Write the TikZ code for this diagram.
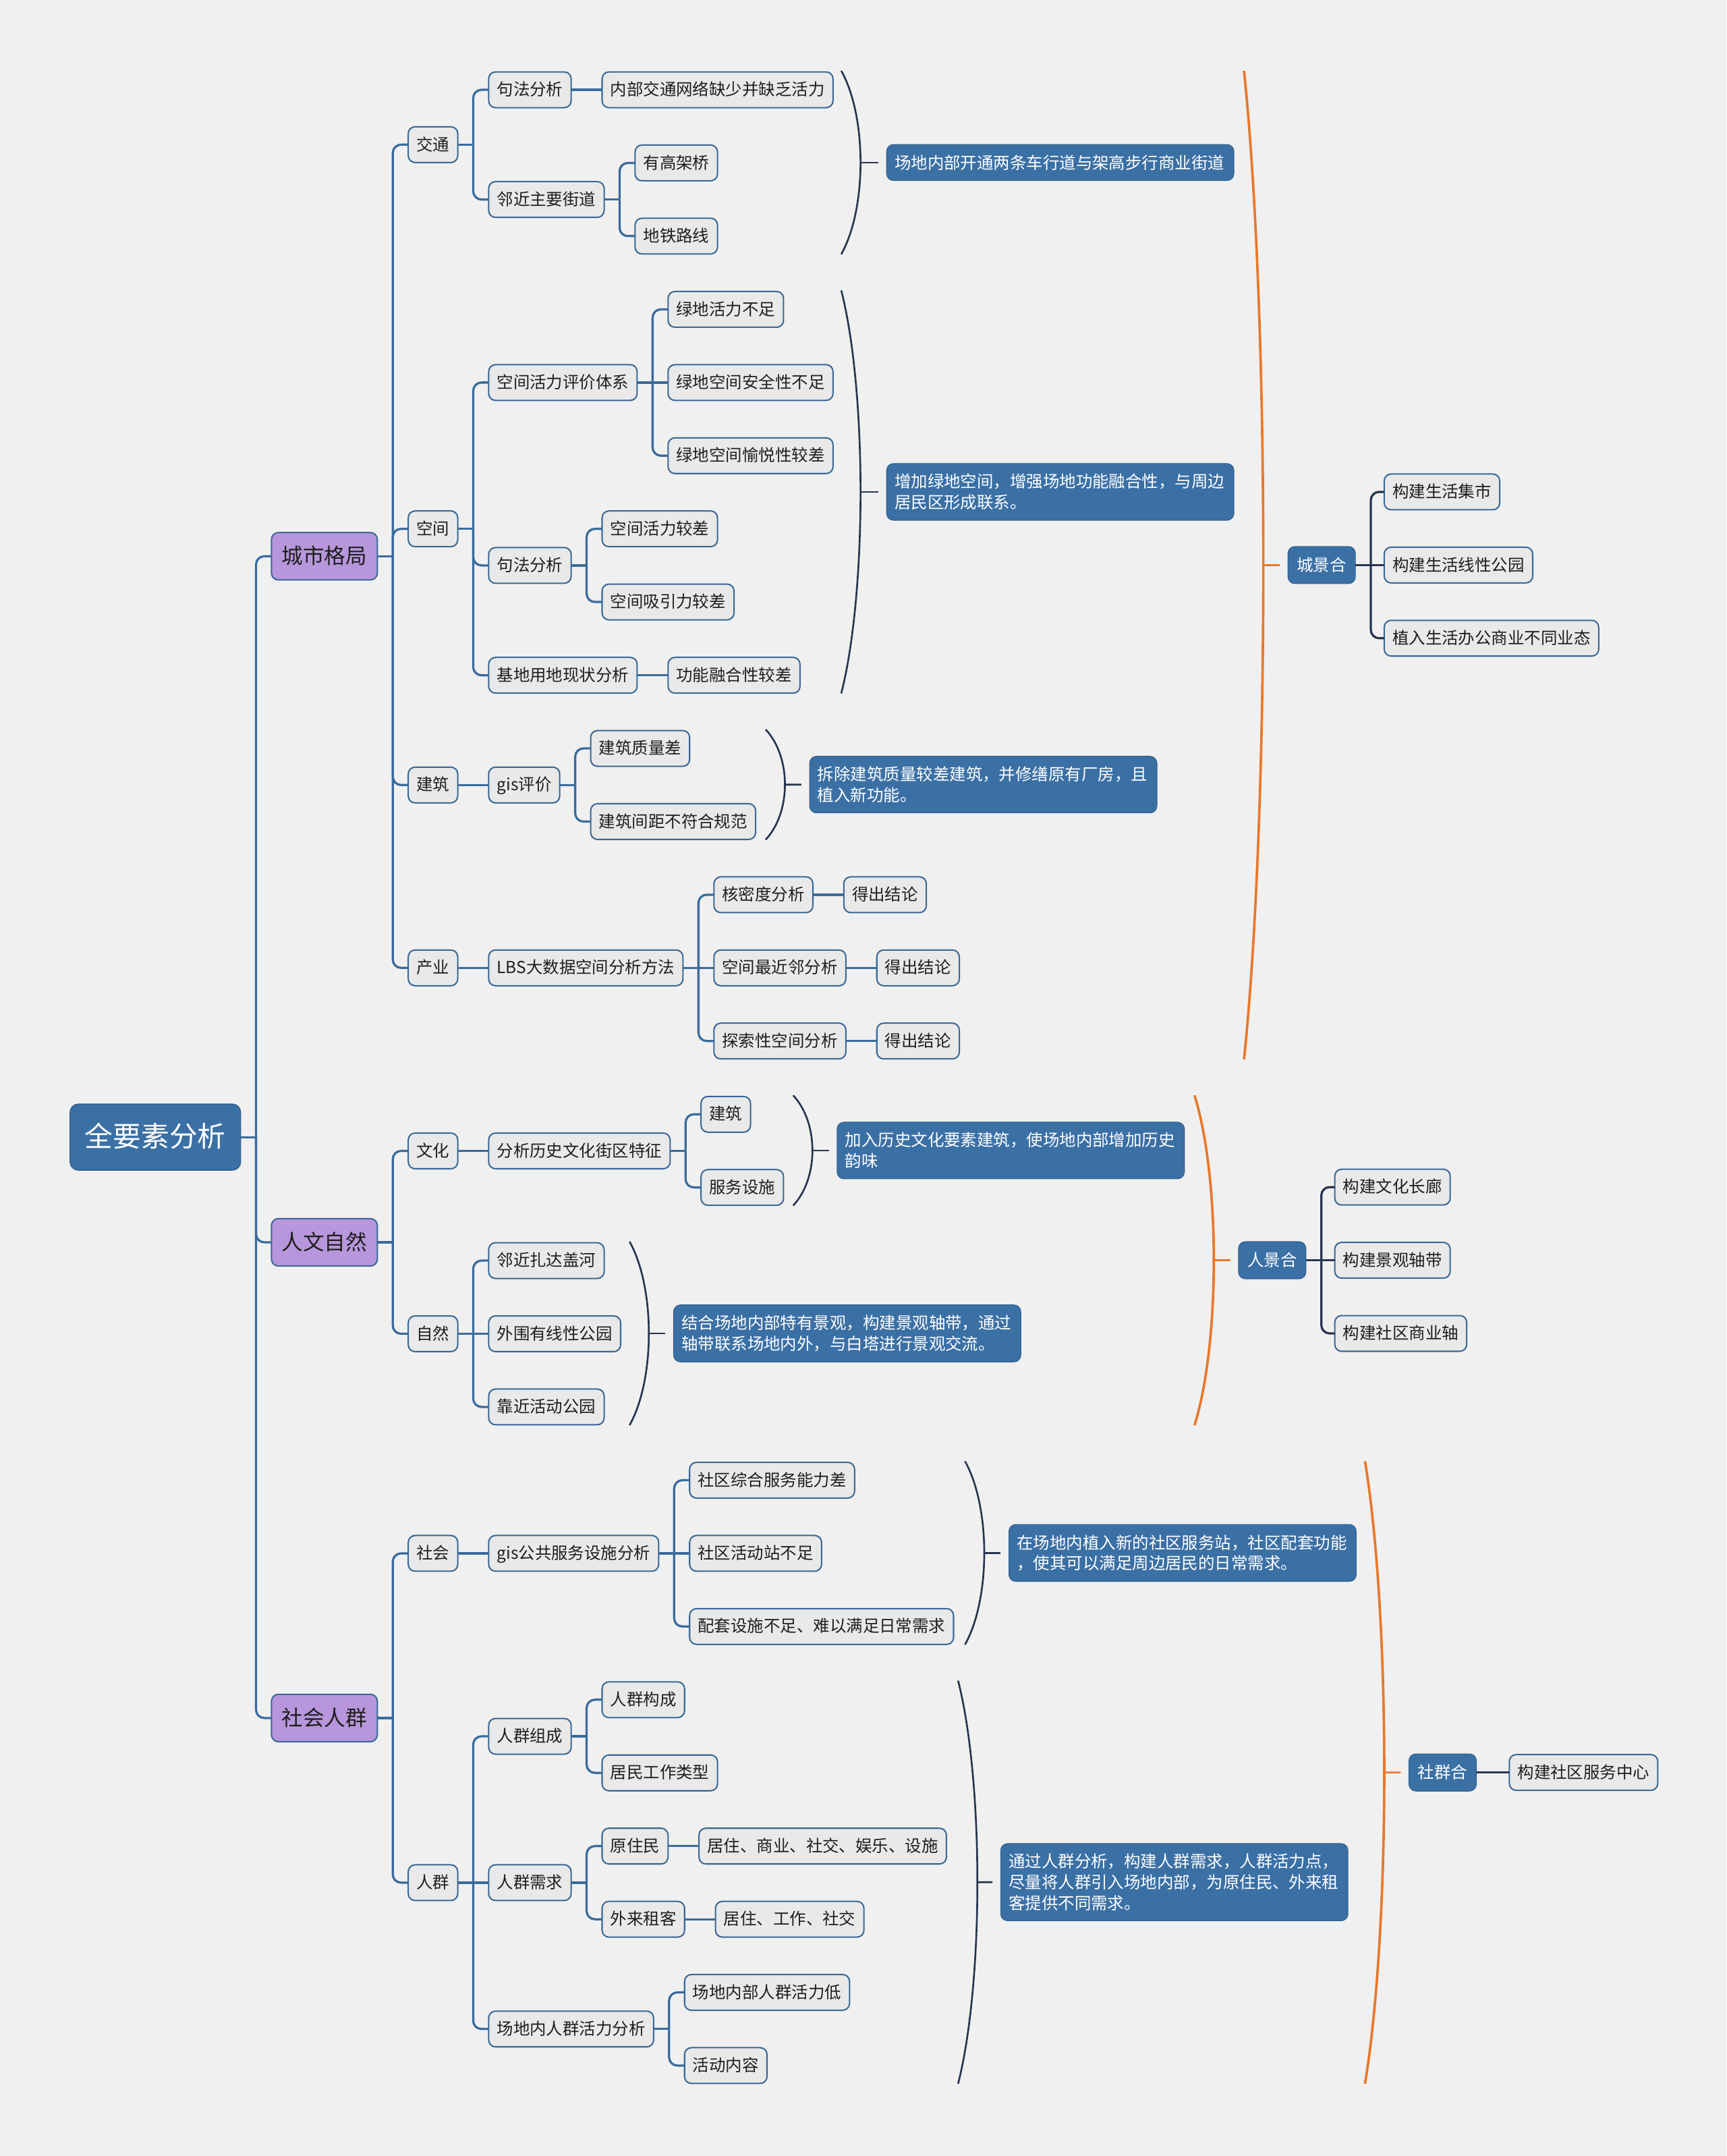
\documentclass[tikz,border=0pt]{standalone}
\usepackage{fontspec}
\setmainfont{Noto Sans CJK SC}
\definecolor{bgc}{HTML}{F0F0F0}
\definecolor{mblue}{HTML}{3B70A5}
\definecolor{mbluedark}{HTML}{33628F}
\definecolor{gfill}{HTML}{E9E9E9}
\definecolor{nborder}{HTML}{3A6896}
\definecolor{purp}{HTML}{B796DC}
\definecolor{connc}{HTML}{3A6B9B}
\definecolor{bracec}{HTML}{27354F}
\definecolor{orng}{HTML}{E8782A}
\definecolor{txt}{HTML}{1E1E1E}

\newcommand\mmlink[3][conn]{%
  \draw[#1] (#2.east) -- ++(11.25,0);
  \foreach \kid in {#3}{\draw[#1,rounded corners=6pt] (#2.east) ++(11.25,0) |- (\kid.west);}%
}
\newcommand\mmbrace[5]{%
  \draw[#1] (#2,#3) .. controls ({#2+18.7},{#3+0.25*(#4-#3)}) and ({#2+18.7},{#4-0.25*(#4-#3)}) .. (#2,#4);
  \coordinate (#5) at ({#2+14},{0.5*(#3+#4)});%
}

\begin{document}
\begin{tikzpicture}[x=1pt,y=-1pt,
  conn/.style={draw=connc, line width=1.6pt},
  dconn/.style={draw=bracec, line width=1.6pt},
  brc/.style={draw=bracec, line width=1.3pt},
  orb/.style={draw=orng, line width=1.8pt},
  orstub/.style={draw=orng, line width=1.2pt},
  gbox/.style={draw=nborder, fill=gfill, line width=1pt, rounded corners=5pt,
    font=\fontsize{12}{15}\selectfont, text=txt, inner xsep=6pt, inner ysep=0pt, outer sep=0pt,
    minimum height=26pt, text height=10pt, text depth=1.5pt, anchor=west},
  lone/.style={draw=nborder, fill=purp, line width=1pt, rounded corners=5pt,
    font=\fontsize{15.5}{18}\selectfont, text=txt, inner xsep=7.5pt, inner ysep=0pt, outer sep=0pt,
    minimum height=34.5pt, text height=13pt, text depth=2pt, anchor=west},
  rootbox/.style={draw=mbluedark, fill=mblue, line width=0.8pt, rounded corners=6pt,
    font=\fontsize{20.5}{24}\selectfont, text=white, inner xsep=10.75pt, inner ysep=0pt, outer sep=0pt,
    minimum height=48pt, text height=17pt, text depth=3pt, anchor=west},
  gtag/.style={draw=mbluedark, fill=mblue, line width=0.6pt, rounded corners=5pt,
    font=\fontsize{12}{15}\selectfont, text=white, inner xsep=6.5pt, inner ysep=0pt, outer sep=0pt,
    minimum height=27pt, text height=10pt, text depth=1.5pt, anchor=west},
  sbox/.style={draw=mbluedark, fill=mblue, line width=0.6pt, rounded corners=5pt,
    font=\fontsize{12}{15}\selectfont, text=white, text width=241pt, align=left,
    inner xsep=5.8pt, inner ysep=7.5pt, outer sep=0pt, anchor=west},
]
\fill[bgc] (0,0) rectangle (1256,1568);
\useasboundingbox (0,0) rectangle (1256,1568);

% root and level 1
\node[rootbox] (R) at (51,827) {全要素分析};
\node[lone] (A) at ([shift={(22.5,-422.45)}]R.east) {城市格局};
\node[lone] (B) at ([shift={(22.5,76.5)}]R.east) {人文自然};
\node[lone] (C) at ([shift={(22.5,422.45)}]R.east) {社会人群};
\mmlink{R}{A,B,C}

% ---------- 城市格局
\node[gbox] (A1) at ([shift={(22.5,-299.35)}]A.east) {交通};
\node[gbox] (A2) at ([shift={(22.5,-19.95)}]A.east) {空间};
\node[gbox] (A3) at ([shift={(22.5,166.35)}]A.east) {建筑};
\node[gbox] (A4) at ([shift={(22.5,299.35)}]A.east) {产业};
\mmlink{A}{A1,A2,A3,A4}

% 交通
\node[gbox] (A1a) at ([shift={(22.5,-39.9)}]A1.east) {句法分析};
\node[gbox] (A1b) at ([shift={(22.5,39.9)}]A1.east) {邻近主要街道};
\mmlink{A1}{A1a,A1b}
\node[gbox] (A1a1) at ([shift={(22.5,0)}]A1a.east) {内部交通网络缺少并缺乏活力};
\draw[conn] (A1a.east) -- (A1a1.west);
\node[gbox] (A1b1) at ([shift={(22.5,-26.6)}]A1b.east) {有高架桥};
\node[gbox] (A1b2) at ([shift={(22.5,26.6)}]A1b.east) {地铁路线};
\mmlink{A1b}{A1b1,A1b2}

% 空间
\node[gbox] (A2a) at ([shift={(22.5,-106.4)}]A2.east) {空间活力评价体系};
\node[gbox] (A2b) at ([shift={(22.5,26.6)}]A2.east) {句法分析};
\node[gbox] (A2c) at ([shift={(22.5,106.5)}]A2.east) {基地用地现状分析};
\mmlink{A2}{A2a,A2b,A2c}
\node[gbox] (A2a1) at ([shift={(22.5,-53.2)}]A2a.east) {绿地活力不足};
\node[gbox] (A2a2) at ([shift={(22.5,0)}]A2a.east) {绿地空间安全性不足};
\node[gbox] (A2a3) at ([shift={(22.5,53.2)}]A2a.east) {绿地空间愉悦性较差};
\mmlink{A2a}{A2a1,A2a3}
\draw[conn] (A2a.east) -- (A2a2.west);
\node[gbox] (A2b1) at ([shift={(22.5,-26.6)}]A2b.east) {空间活力较差};
\node[gbox] (A2b2) at ([shift={(22.5,26.6)}]A2b.east) {空间吸引力较差};
\mmlink{A2b}{A2b1,A2b2}
\node[gbox] (A2c1) at ([shift={(22.5,0)}]A2c.east) {功能融合性较差};
\draw[conn] (A2c.east) -- (A2c1.west);

% 建筑
\node[gbox] (A3a) at ([shift={(22.5,0)}]A3.east) {gis评价};
\draw[conn] (A3.east) -- (A3a.west);
\node[gbox] (A3a1) at ([shift={(22.5,-26.6)}]A3a.east) {建筑质量差};
\node[gbox] (A3a2) at ([shift={(22.5,26.6)}]A3a.east) {建筑间距不符合规范};
\mmlink{A3a}{A3a1,A3a2}

% 产业
\node[gbox] (A4a) at ([shift={(22.5,0)}]A4.east) {LBS大数据空间分析方法};
\draw[conn] (A4.east) -- (A4a.west);
\node[gbox] (A4a1) at ([shift={(22.5,-53.2)}]A4a.east) {核密度分析};
\node[gbox] (A4a2) at ([shift={(22.5,0)}]A4a.east) {空间最近邻分析};
\node[gbox] (A4a3) at ([shift={(22.5,53.2)}]A4a.east) {探索性空间分析};
\mmlink{A4a}{A4a1,A4a3}
\draw[conn] (A4a.east) -- (A4a2.west);
\node[gbox] (A4a1r) at ([shift={(22.5,0)}]A4a1.east) {得出结论};
\node[gbox] (A4a2r) at ([shift={(22.5,0)}]A4a2.east) {得出结论};
\node[gbox] (A4a3r) at ([shift={(22.5,0)}]A4a3.east) {得出结论};
\draw[conn] (A4a1.east) -- (A4a1r.west);
\draw[conn] (A4a2.east) -- (A4a2r.west);
\draw[conn] (A4a3.east) -- (A4a3r.west);

% ---------- 人文自然
\node[gbox] (B1) at ([shift={(22.5,-66.5)}]B.east) {文化};
\node[gbox] (B2) at ([shift={(22.5,66.5)}]B.east) {自然};
\mmlink{B}{B1,B2}
\node[gbox] (B1a) at ([shift={(22.5,0)}]B1.east) {分析历史文化街区特征};
\draw[conn] (B1.east) -- (B1a.west);
\node[gbox] (B1a1) at ([shift={(22.5,-26.6)}]B1a.east) {建筑};
\node[gbox] (B1a2) at ([shift={(22.5,26.6)}]B1a.east) {服务设施};
\mmlink{B1a}{B1a1,B1a2}
\node[gbox] (B2a) at ([shift={(22.5,-53.2)}]B2.east) {邻近扎达盖河};
\node[gbox] (B2b) at ([shift={(22.5,0)}]B2.east) {外围有线性公园};
\node[gbox] (B2c) at ([shift={(22.5,53.2)}]B2.east) {靠近活动公园};
\mmlink{B2}{B2a,B2c}
\draw[conn] (B2.east) -- (B2b.west);

% ---------- 社会人群
\node[gbox] (C1) at ([shift={(22.5,-119.75)}]C.east) {社会};
\node[gbox] (C2) at ([shift={(22.5,119.75)}]C.east) {人群};
\mmlink{C}{C1,C2}
\node[gbox] (C1a) at ([shift={(22.5,0)}]C1.east) {gis公共服务设施分析};
\draw[conn] (C1.east) -- (C1a.west);
\node[gbox] (C1a1) at ([shift={(22.5,-53.2)}]C1a.east) {社区综合服务能力差};
\node[gbox] (C1a2) at ([shift={(22.5,0)}]C1a.east) {社区活动站不足};
\node[gbox] (C1a3) at ([shift={(22.5,53.2)}]C1a.east) {配套设施不足、难以满足日常需求};
\mmlink{C1a}{C1a1,C1a3}
\draw[conn] (C1a.east) -- (C1a2.west);

\node[gbox] (C2a) at ([shift={(22.5,-106.45)}]C2.east) {人群组成};
\node[gbox] (C2b) at ([shift={(22.5,0)}]C2.east) {人群需求};
\node[gbox] (C2c) at ([shift={(22.5,106.4)}]C2.east) {场地内人群活力分析};
\mmlink{C2}{C2a,C2c}
\draw[conn] (C2.east) -- (C2b.west);
\node[gbox] (C2a1) at ([shift={(22.5,-26.6)}]C2a.east) {人群构成};
\node[gbox] (C2a2) at ([shift={(22.5,26.6)}]C2a.east) {居民工作类型};
\mmlink{C2a}{C2a1,C2a2}
\node[gbox] (C2b1) at ([shift={(22.5,-26.6)}]C2b.east) {原住民};
\node[gbox] (C2b2) at ([shift={(22.5,26.6)}]C2b.east) {外来租客};
\mmlink{C2b}{C2b1,C2b2}
\node[gbox] (C2b1r) at ([shift={(22.5,0)}]C2b1.east) {居住、商业、社交、娱乐、设施};
\node[gbox] (C2b2r) at ([shift={(22.5,0)}]C2b2.east) {居住、工作、社交};
\draw[conn] (C2b1.east) -- (C2b1r.west);
\draw[conn] (C2b2.east) -- (C2b2r.west);
\node[gbox] (C2c1) at ([shift={(22.5,-26.6)}]C2c.east) {场地内部人群活力低};
\node[gbox] (C2c2) at ([shift={(22.5,26.6)}]C2c.east) {活动内容};
\mmlink{C2c}{C2c1,C2c2}

% ---------- summary braces
\mmbrace{brc}{612}{51.5}{184.9}{T1}
\node[sbox] (S1) at (645,118.2) {场地内部开通两条车行道与架高步行商业街道};
\draw[brc, shorten >=6pt] (T1) -- (S1.west);

\mmbrace{brc}{612}{211.2}{504.3}{T2}
\node[sbox] (S2) at (645,357.75) {增加绿地空间，增强场地功能融合性，与周边\\居民区形成联系。};
\draw[brc, shorten >=6pt] (T2) -- (S2.west);

\mmbrace{brc}{557}{530.5}{610.7}{T3}
\node[sbox] (S3) at (589,570.6) {拆除建筑质量较差建筑，并修缮原有厂房，且\\植入新功能。};
\draw[brc, shorten >=6pt] (T3) -- (S3.west);

\mmbrace{brc}{577}{796.6}{876.8}{T4}
\node[sbox] (S4) at (609,836.7) {加入历史文化要素建筑，使场地内部增加历史\\韵味};
\draw[brc, shorten >=6pt] (T4) -- (S4.west);

\mmbrace{brc}{458}{903.0}{1036.5}{T5}
\node[sbox] (S5) at (490,969.75) {结合场地内部特有景观，构建景观轴带，通过\\轴带联系场地内外，与白塔进行景观交流。};
\draw[brc, shorten >=6pt] (T5) -- (S5.west);

\mmbrace{brc}{702}{1062.7}{1196.1}{T6}
\node[sbox] (S6) at (734,1129.4) {在场地内植入新的社区服务站，社区配套功能\\，使其可以满足周边居民的日常需求。};
\draw[brc, shorten >=6pt] (T6) -- (S6.west);

\mmbrace{brc}{697}{1222.3}{1515.4}{T7}
\node[sbox] (S7) at (728,1368.85) {通过人群分析，构建人群需求，人群活力点，\\尽量将人群引入场地内部，为原住民、外来租\\客提供不同需求。};
\draw[brc, shorten >=6pt] (T7) -- (S7.west);

% ---------- orange groups
\mmbrace{orb}{905}{51.5}{770.4}{O1}
\node[gtag] (G1) at (937,410.95) {城景合};
\draw[orstub, shorten >=6pt] (O1) -- (G1.west);
\node[gbox] (G1a) at ([shift={(21,-53.2)}]G1.east) {构建生活集市};
\node[gbox] (G1b) at ([shift={(21,0)}]G1.east) {构建生活线性公园};
\node[gbox] (G1c) at ([shift={(21,53.2)}]G1.east) {植入生活办公商业不同业态};
\mmlink[dconn]{G1}{G1a,G1c}
\draw[dconn] (G1.east) -- (G1b.west);

\mmbrace{orb}{869}{796.6}{1036.5}{O2}
\node[gtag] (G2) at (901,916.55) {人景合};
\draw[orstub, shorten >=6pt] (O2) -- (G2.west);
\node[gbox] (G2a) at ([shift={(21,-53.2)}]G2.east) {构建文化长廊};
\node[gbox] (G2b) at ([shift={(21,0)}]G2.east) {构建景观轴带};
\node[gbox] (G2c) at ([shift={(21,53.2)}]G2.east) {构建社区商业轴};
\mmlink[dconn]{G2}{G2a,G2c}
\draw[dconn] (G2.east) -- (G2b.west);

\mmbrace{orb}{993}{1062.7}{1515.4}{O3}
\node[gtag] (G3) at (1025,1289.05) {社群合};
\draw[orstub, shorten >=6pt] (O3) -- (G3.west);
\node[gbox] (G3a) at ([shift={(24,0)}]G3.east) {构建社区服务中心};
\draw[dconn] (G3.east) -- (G3a.west);
\end{tikzpicture}
\end{document}
